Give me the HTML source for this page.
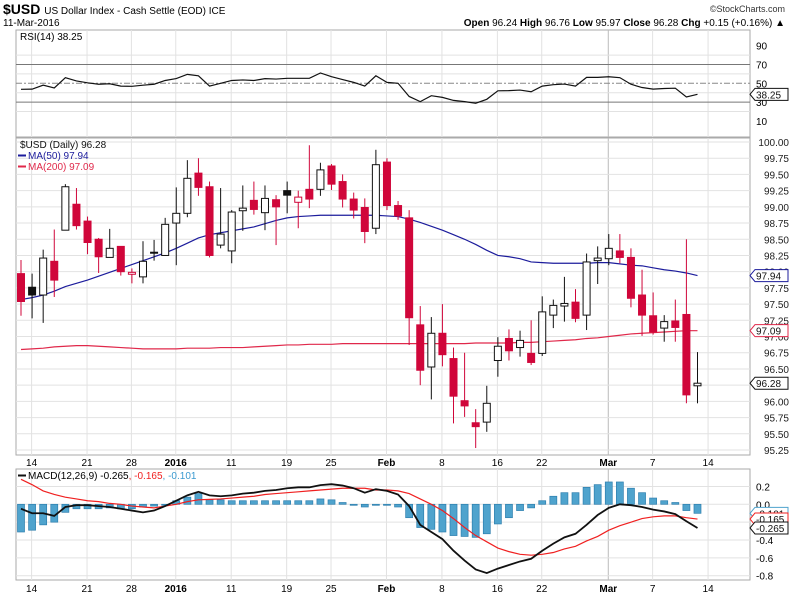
<!DOCTYPE html>
<html><head><meta charset="utf-8"><style>
body{margin:0;background:#fff;}
svg{display:block;font-family:"Liberation Sans",sans-serif;}
</style></head><body>
<svg id="c" width="800" height="596" viewBox="0 0 800 596">
<text x="3" y="14" font-size="14" font-weight="bold">$USD <tspan font-size="10" font-weight="normal">US Dollar Index - Cash Settle (EOD) ICE</tspan></text>
<text x="3" y="26" font-size="10">11-Mar-2016</text>
<text x="785" y="12" font-size="9" text-anchor="end" fill="#333">©StockCharts.com</text>
<text x="785" y="26" font-size="10" text-anchor="end"><tspan font-weight="bold">Open</tspan> 96.24 <tspan font-weight="bold">High</tspan> 96.76 <tspan font-weight="bold">Low</tspan> 95.97 <tspan font-weight="bold">Close</tspan> 96.28 <tspan font-weight="bold">Chg</tspan> +0.15 (+0.16%) ▲</text>
<g id="g"></g>
</svg>
<script>
const opens=[97.97,97.76,97.64,98.16,98.64,99.04,98.78,98.50,98.22,98.39,97.96,97.92,98.29,98.25,98.75,98.90,99.52,99.31,98.41,98.32,98.94,99.10,98.91,99.11,99.25,99.07,99.27,99.27,99.63,99.39,99.12,98.99,98.67,99.69,99.02,98.83,97.18,96.53,97.05,96.66,96.01,95.67,95.68,96.63,96.97,96.83,96.74,96.74,97.33,97.47,97.53,97.33,98.17,98.20,98.32,98.22,97.64,97.32,97.13,97.24,97.34,96.24];
const highs=[98.18,97.97,98.34,98.65,99.35,99.29,98.85,98.52,98.66,98.39,98.05,98.47,98.49,98.83,99.30,99.72,99.75,99.39,99.29,98.95,99.33,99.39,99.33,99.18,99.39,99.25,99.95,99.68,99.66,99.50,99.22,99.13,99.88,99.75,99.09,98.95,97.47,97.30,97.50,96.83,96.75,95.88,96.24,96.99,97.11,97.09,97.25,97.62,97.57,97.92,97.73,98.28,98.39,98.58,98.58,98.36,98.03,97.68,97.33,97.57,98.50,96.76];
const lows=[97.32,97.28,97.21,97.61,98.64,98.65,98.27,97.98,98.22,97.94,97.82,97.82,98.17,98.25,98.10,98.84,99.17,98.22,98.36,98.13,98.63,98.88,98.64,98.41,98.90,98.67,98.98,99.17,99.26,98.99,98.82,98.44,98.58,98.95,98.80,96.87,96.25,96.03,96.54,95.66,95.76,95.28,95.53,96.38,96.63,96.69,96.56,96.70,97.13,97.23,97.22,97.10,97.81,98.10,98.13,97.45,97.01,97.03,96.92,96.92,95.97,95.97];
const closes=[97.54,97.64,98.21,97.87,99.31,98.71,98.45,98.23,98.36,98.00,97.99,98.16,98.30,98.73,98.90,99.44,99.30,98.25,98.58,98.92,98.98,98.96,99.13,99.00,99.18,99.15,99.12,99.57,99.35,99.12,98.95,98.62,99.65,99.02,98.86,97.29,96.48,97.05,96.72,96.08,95.93,95.61,95.97,96.85,96.78,96.94,96.60,97.38,97.48,97.51,97.28,98.15,98.21,98.36,98.22,97.59,97.33,97.07,97.23,97.14,96.10,96.28];
const ma50=[97.57,97.60,97.64,97.70,97.77,97.82,97.87,97.93,97.99,98.05,98.11,98.17,98.23,98.29,98.36,98.44,98.52,98.57,98.60,98.63,98.66,98.69,98.74,98.79,98.83,98.85,98.86,98.87,98.87,98.87,98.87,98.87,98.87,98.86,98.85,98.81,98.76,98.70,98.64,98.57,98.50,98.42,98.33,98.25,98.23,98.20,98.15,98.14,98.13,98.13,98.13,98.13,98.14,98.14,98.12,98.10,98.09,98.06,98.03,98.01,97.98,97.94];
const ma200=[96.80,96.81,96.82,96.84,96.85,96.86,96.86,96.85,96.84,96.83,96.82,96.81,96.81,96.81,96.81,96.82,96.82,96.82,96.83,96.83,96.83,96.84,96.85,96.86,96.87,96.87,96.88,96.88,96.88,96.89,96.89,96.89,96.89,96.89,96.89,96.89,96.89,96.89,96.89,96.89,96.89,96.90,96.90,96.90,96.90,96.91,96.91,96.92,96.93,96.94,96.95,96.97,96.98,97.00,97.02,97.04,97.05,97.06,97.07,97.08,97.09,97.09];
const rsi=[43.6,43.8,48,45,56,52.5,50.5,49,49.5,47,46.8,48,49,53,55,59.5,58,47,50,53,53.6,53,55,54.5,55.3,55.3,55.3,61,57,54,51,47,58,51,50,36,30.5,36.8,35,31.8,30.5,28.8,33,42,42.2,42.8,41,47,48.5,49.2,47,56.3,56.3,57,56,49,45.5,43.8,44.5,44.8,35.5,38.25];
const macd=[-0.05,-0.10,-0.10,-0.13,-0.03,-0.01,-0.01,-0.02,-0.03,-0.05,-0.07,-0.09,-0.07,-0.02,0.04,0.10,0.14,0.10,0.09,0.10,0.12,0.13,0.15,0.16,0.18,0.19,0.19,0.215,0.225,0.21,0.18,0.13,0.17,0.15,0.11,-0.02,-0.23,-0.31,-0.39,-0.52,-0.63,-0.73,-0.77,-0.72,-0.68,-0.64,-0.61,-0.52,-0.44,-0.37,-0.33,-0.23,-0.12,-0.04,0.00,-0.01,-0.03,-0.06,-0.08,-0.11,-0.19,-0.265];
const signal=[0.28,0.22,0.15,0.11,0.08,0.06,0.04,0.03,0.01,0.00,-0.02,-0.03,-0.04,-0.02,0.00,0.03,0.05,0.055,0.06,0.07,0.08,0.09,0.11,0.12,0.13,0.14,0.15,0.16,0.17,0.18,0.18,0.18,0.16,0.16,0.15,0.12,0.06,0.00,-0.07,-0.16,-0.26,-0.35,-0.42,-0.49,-0.53,-0.56,-0.57,-0.56,-0.54,-0.50,-0.47,-0.41,-0.36,-0.29,-0.24,-0.20,-0.16,-0.14,-0.13,-0.13,-0.15,-0.165];
const hist=[-0.31,-0.29,-0.23,-0.2,-0.09,-0.05,-0.05,-0.05,-0.04,-0.05,-0.05,-0.03,-0.02,-0.01,0.04,0.08,0.12,0.05,0.05,0.04,0.04,0.04,0.04,0.04,0.04,0.04,0.04,0.06,0.05,0.02,-0.01,-0.03,-0.01,-0.01,-0.03,-0.15,-0.26,-0.28,-0.31,-0.35,-0.36,-0.37,-0.33,-0.22,-0.15,-0.07,-0.04,0.04,0.09,0.13,0.13,0.19,0.22,0.25,0.25,0.18,0.13,0.07,0.04,0.02,-0.07,-0.101];
const xLabels=["14","21","28","2016","11","19","25","Feb","8","16","22","Mar","7","14"];
const xLabelIdx=[1,6,10,14,19,24,28,33,38,43,47,53,57,62];
const priceTicks=[100,99.75,99.5,99.25,99,98.75,98.5,98.25,98,97.75,97.5,97.25,97,96.75,96.5,96.25,96,95.75,95.5,95.25];
const rsiTicks=[90,70,50,30,10];
const macdTicks=[0.2,0,-0.2,-0.4,-0.6,-0.8];

const NS="http://www.w3.org/2000/svg",G=document.getElementById('g');
function mk(t,a,p){const e=document.createElementNS(NS,t);for(const k in a)e.setAttribute(k,a[k]);(p||G).appendChild(e);return e;}
const L=16,R=750;
const xs=i=>21+i*11.09;
const yP=p=>142+(100-p)*64.84;
const yR=r=>83.3+(50-r)*0.94;
const yM=v=>504.3-v*89.3;
const RED="#d0063a",BLUE="#1c1c9c",PINK="#e0284a",HB="#4fa3cd";

function panel(top,bot,nm){
  const r=mk('rect',{x:L,y:top,width:R-L,height:bot-top,fill:'none',stroke:'#aaa'});
  
  
  xLabelIdx.forEach((ix,k)=>{const x=xs(ix)-0.5;mk('line',{x1:x,x2:x,y1:top,y2:bot,stroke:k==11?'#bbb':'#e2e2e2'});});
}
// RSI panel
panel(30,137,'rsi-panel');
[80,60,40,20].forEach(v=>mk('line',{x1:L,x2:R,y1:yR(v),y2:yR(v),stroke:'#e2e2e2'}));
mk('line',{x1:L,x2:R,y1:yR(70),y2:yR(70),stroke:'#777'});
mk('line',{x1:L,x2:R,y1:yR(30),y2:yR(30),stroke:'#777'});
mk('line',{x1:L,x2:R,y1:yR(50),y2:yR(50),stroke:'#888','stroke-dasharray':'6,2,2,2'});
rsiTicks.forEach(v=>{const t=mk('text',{x:756,y:yR(v)+4,'font-size':10});t.textContent=v;

});
let rl=mk('polyline',{points:rsi.map((v,i)=>xs(i)+','+yR(v)).join(' '),fill:'none',stroke:'#111','stroke-width':1.2});


let rt=mk('text',{x:20,y:40,'font-size':10});rt.textContent='RSI(14) 38.25';



// Main panel
panel(138,455,'price-panel');
priceTicks.forEach(p=>{mk('line',{x1:L,x2:R,y1:yP(p),y2:yP(p),stroke:'#e2e2e2'});
const t=mk('text',{x:789,y:yP(p)+4,'font-size':10,'text-anchor':'end',fill:'#222'});t.textContent=p.toFixed(2);

});
function line(arr,yf,col,nm,w){const e=mk('polyline',{points:arr.map((v,i)=>xs(i)+','+yf(v)).join(' '),fill:'none',stroke:col,'stroke-width':w||1.2});

}
line(ma50,yP,BLUE,'ma50-line');
line(ma200,yP,PINK,'ma200-line');
closes.forEach((c,i)=>{
  const o=opens[i],prev=i?closes[i-1]:98.0;
  const col=c<prev?RED:'#111',fill=c<o;
  const x=xs(i);
  const g=mk('g',{});
  
  
  mk('line',{x1:x,x2:x,y1:yP(highs[i]),y2:yP(lows[i]),stroke:col},g);
  const t=yP(Math.max(o,c)),b=yP(Math.min(o,c));
  mk('rect',{x:x-3.5,y:t,width:7,height:Math.max(b-t,1),fill:fill?col:'#fff',stroke:col},g);
});
[['$USD (Daily) 96.28','#111',148],['MA(50) 97.94',BLUE,159],['MA(200) 97.09',PINK,170]].forEach((d,k)=>{
 const t=mk('text',{x:k?28:20,y:d[2],'font-size':10,fill:d[1]});t.textContent=d[0];
 
 
 if(k)mk('line',{x1:18,x2:26,y1:d[2]-3.5,y2:d[2]-3.5,stroke:d[1],'stroke-width':2});
});
function tag(x,y,txt,col,nm){const g=mk('g',{});
 
 
 mk('path',{d:`M${x} ${y} l5 -6 h33 v12 h-33 z`,fill:'#fff',stroke:col},g);
 const t=mk('text',{x:x+6,y:y+4,'font-size':10,fill:'#111'},g);t.textContent=txt;}
tag(750,yP(97.94),'97.94',BLUE,'ma50-value-tag');
tag(750,yP(97.09),'97.09',PINK,'ma200-value-tag');
tag(750,yP(96.28),'96.28','#111','close-value-tag');
tag(750,yR(38.25),'38.25','#111','rsi-value-tag');

// x labels
[462,588].forEach(y=>xLabels.forEach((s,k)=>{const t=mk('text',{x:xs(xLabelIdx[k])-0.5,y:y+4,'font-size':10,'text-anchor':'middle','font-weight':(s=='2016'||s=='Feb'||s=='Mar')?'bold':'normal'});t.textContent=s;

}));

// MACD
panel(469,580,'macd-panel');
macdTicks.forEach(v=>{mk('line',{x1:L,x2:R,y1:yM(v),y2:yM(v),stroke:'#e2e2e2'});
const t=mk('text',{x:756,y:yM(v)+4,'font-size':10});t.textContent=v.toFixed(1);

});
hist.forEach((h,i)=>{const y0=yM(0),y1=yM(h);
 const r=mk('rect',{x:xs(i)-3.5,y:Math.min(y0,y1),width:7,height:Math.max(Math.abs(y1-y0),1),fill:HB,stroke:'#2e7fae','stroke-width':0.7});
 
 });
line(signal,yM,'#f02020','macd-signal-line',1.2);
line(macd,yM,'#111','macd-line',1.8);
const mt=mk('text',{x:28,y:479,'font-size':10});mt.innerHTML='MACD(12,26,9) -0.265<tspan fill="#f02020">, -0.165</tspan><tspan fill="#3a9ad0">, -0.101</tspan>';


mk('line',{x1:18,x2:26,y1:475.5,y2:475.5,stroke:'#111','stroke-width':2});
tag(750,yM(-0.101),'-0.101',HB,'histogram-value-tag');
tag(750,yM(-0.165),'-0.165','#f02020','signal-value-tag');
tag(750,yM(-0.265),'-0.265','#111','macd-value-tag');
</script>
</body></html>
